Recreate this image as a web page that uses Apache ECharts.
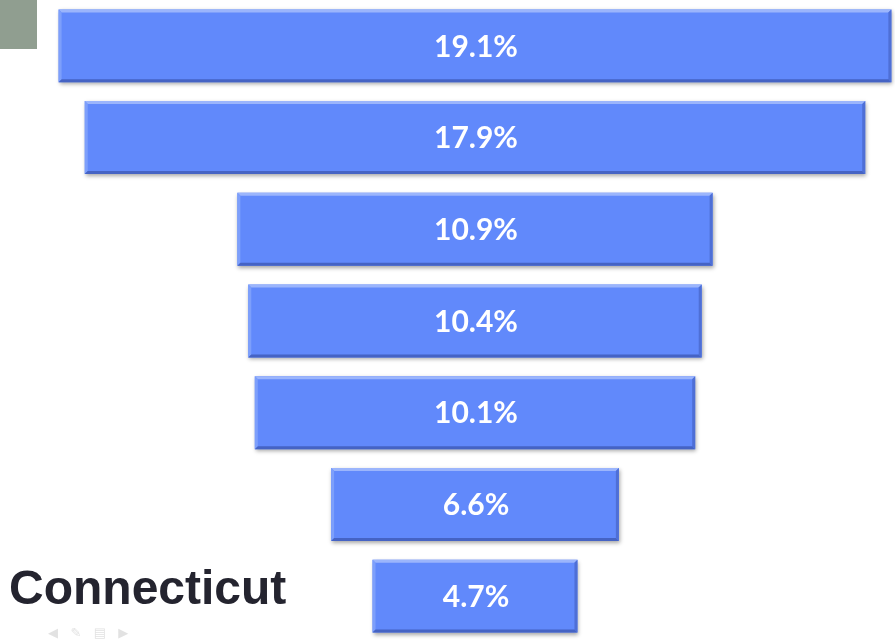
<!DOCTYPE html>
<html>
<head>
<meta charset="utf-8">
<script src="https://cdn.jsdelivr.net/npm/echarts@6/dist/echarts.min.js"></script>
<style>
  html, body { margin: 0; padding: 0; background: #ffffff; }
  #chart { width: 895px; height: 642px; }
</style>
</head>
<body>
<div id="chart"></div>
<script>
// Shares shown as centred bars, largest on top
const rows = ['1', '2', '3', '4', '5', '6', '7'];
const shares = [19.1, 17.9, 10.9, 10.4, 10.1, 6.6, 4.7];
const title = 'Connecticut';

const chart = echarts.init(document.getElementById('chart'), null, { renderer: 'canvas' });

function renderBar(params, api) {
  const idx = api.value(0);
  const v = api.value(1);
  const left = api.coord([-v / 2, idx]);
  const right = api.coord([v / 2, idx]);
  const h = api.size([0, 1])[1] * 0.795;
  const x = left[0];
  const y = left[1] - h / 2;
  const w = right[0] - left[0];
  return {
    type: 'group',
    children: [
      {
        type: 'rect',
        shape: { x: x, y: y, width: w, height: h },
        style: {
          fill: '#6189fb',
          shadowBlur: 4,
          shadowOffsetX: 1,
          shadowOffsetY: 2,
          shadowColor: 'rgba(0,0,0,0.35)'
        }
      },
      // bevel: light top and left edges, darker bottom and right edges
      {
        type: 'polygon',
        shape: { points: [[x, y], [x + w, y], [x + w - 3, y + 3], [x + 3, y + 3]] },
        style: { fill: '#9bb5fc' }
      },
      {
        type: 'polygon',
        shape: { points: [[x, y], [x + 3, y + 3], [x + 3, y + h - 3], [x, y + h]] },
        style: { fill: '#7d9ffb' }
      },
      {
        type: 'polygon',
        shape: { points: [[x + w, y], [x + w, y + h], [x + w - 3, y + h - 3], [x + w - 3, y + 3]] },
        style: { fill: '#4e6fd6' }
      },
      {
        type: 'polygon',
        shape: { points: [[x, y + h], [x + w, y + h], [x + w - 3, y + h - 3], [x + 3, y + h - 3]] },
        style: { fill: '#4563c4' }
      },
      {
        type: 'text',
        style: {
          x: x + w / 2 + 1,
          y: y + h / 2 + 1,
          text: v.toFixed(1) + '%',
          fill: '#ffffff',
          font: 'bold 30px Lato, "Open Sans", sans-serif',
          align: 'center',
          verticalAlign: 'middle'
        }
      }
    ]
  };
}

chart.setOption({
  animation: false,
  backgroundColor: '#ffffff',
  grid: { left: 0, right: 0, top: 0, bottom: 0 },
  // zero sits at the funnel's centre line
  xAxis: { type: 'value', min: -10.894, max: 9.633, show: false },
  yAxis: { type: 'category', data: rows, inverse: true, show: false },
  series: [{
    type: 'custom',
    renderItem: renderBar,
    encode: { x: 1, y: 0 },
    data: shares.map((v, i) => [i, v])
  }],
  graphic: [
    { type: 'rect', left: 0, top: 0, shape: { width: 37, height: 49 }, style: { fill: '#909e90' } },
    {
      type: 'text', left: 9, top: 567,
      style: { text: title, font: 'bold 48px "Liberation Sans", Arial, sans-serif', fill: '#24242f' }
    },
    {
      type: 'text', left: 48, top: 627,
      style: { text: '◀   ✎   ▤   ▶', font: '13px "DejaVu Sans", sans-serif', fill: '#e2e2e2' }
    }
  ]
});
</script>
</body>
</html>
